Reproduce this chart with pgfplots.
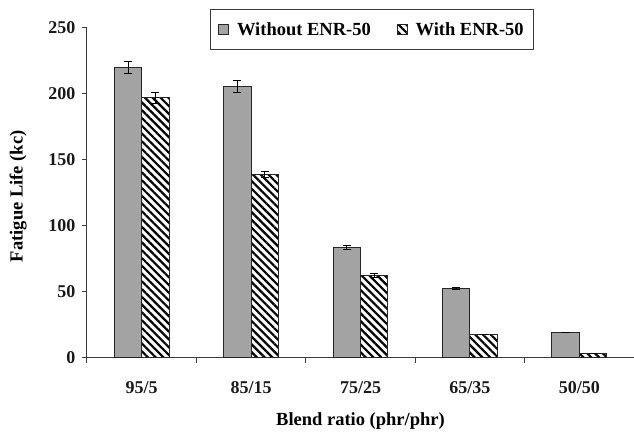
\documentclass[border=0pt]{standalone}
\usepackage{fontspec}
\setmainfont{Liberation Serif}
\usepackage{pgfplots}
\pgfplotsset{compat=1.18}
\usetikzlibrary{patterns.meta}
\definecolor{bargray}{RGB}{163,163,163}
\definecolor{axgray}{RGB}{60,60,60}
\pgfplotstableread{
x y e
0 220 4.5
1 206 4.5
2 84 1.5
3 52.5 0.6
4 19 0
}\without
\pgfplotstableread{
x y e
0 197 4
1 139 2
2 62.5 1.5
3 18 0
4 3.5 0
}\withenr
\begin{document}
\begin{tikzpicture}
\begin{axis}[
  scale only axis, width=547pt, height=330pt,
  xmin=-0.5, xmax=4.5, ymin=0, ymax=250,
  axis x line=bottom, axis y line=left,
  axis line style={-, axgray, line width=1pt},
  tick style={axgray, line width=1pt},
  tick align=outside, major tick length=5pt,
  xtick={-0.5,0.5,1.5,2.5,3.5,4.5},
  x tick label as interval,
  xticklabels={95/5,85/15,75/25,65/35,50/50},
  ytick={0,50,...,250},
  /pgf/number format/assume math mode=true,
  every tick label/.append style={font=\bfseries\fontsize{18}{21}\selectfont, text=black!90},
  xticklabel style={yshift=-15pt},
  yticklabel style={xshift=-3pt},
  xlabel={Blend ratio (phr/phr)},
  ylabel={Fatigue Life (kc)},
  label style={font=\bfseries\fontsize{18.5}{21}\selectfont},
  xlabel style={at={(axis description cs:0.5,-0.192)}, anchor=center},
  ylabel style={at={(axis description cs:-0.126,0.49)}, anchor=center},
  ybar=0pt, bar width=0.25,
  legend columns=2,
  legend style={at={(axis description cs:0.521,1.058)}, anchor=north,
    draw=axgray, line width=1pt, inner xsep=8pt, inner ysep=11pt,
    font=\bfseries\fontsize{18.5}{21}\selectfont,
    /tikz/every odd column/.append style={column sep=6pt},
    /tikz/every even column/.append style={column sep=24pt}},
  legend image code/.code={\draw[#1, line width=0.8pt] (0pt,-5pt) rectangle (10pt,5pt);},
]
\addplot[fill=bargray, draw=black!85, line width=1pt, bar shift=-0.125,
  error bars/.cd, y dir=both, y explicit,
  error bar style={black, line width=1pt},
  error mark options={rotate=90, mark size=4pt, line width=1pt, black}]
  table[x=x, y=y, y error=e]{\without};
\addlegendentry{Without ENR-50}
\addplot[pattern={Lines[angle=-45,distance=5.5pt,line width=2.2pt]}, pattern color=black, draw=black!85, line width=1pt, bar shift=0.125,
  error bars/.cd, y dir=both, y explicit,
  error bar style={black, line width=1pt},
  error mark options={rotate=90, mark size=4pt, line width=1pt, black}]
  table[x=x, y=y, y error=e]{\withenr};
\addlegendentry{With ENR-50}
\end{axis}
\pgfresetboundingbox
\path (current axis.south west) ++(-87pt,-77pt) rectangle ++(634pt,435pt);
\end{tikzpicture}
\end{document}
